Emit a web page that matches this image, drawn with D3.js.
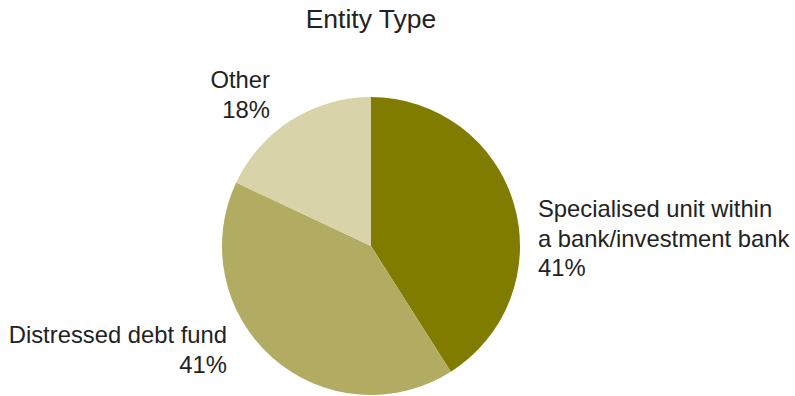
<!DOCTYPE html>
<html><head><meta charset="utf-8">
<script src="https://cdn.jsdelivr.net/npm/d3@7"></script>
<style>body{margin:0;background:#fff}svg{display:block;font-family:"Liberation Sans",Arial,sans-serif}</style>
</head><body>
<svg id="c" width="795" height="396"></svg>
<script>
const categories = ["Specialised unit within a bank/investment bank", "Distressed debt fund", "Other"];
const labelLines = [["Specialised unit within", "a bank/investment bank", "41%"], ["Distressed debt fund", "41%"], ["Other", "18%"]];
const values = [41, 41, 18];
const colors = ["#807c00", "#b1ac62", "#d8d3a8"];

const svg = d3.select("#c");
const cx = 371, cy = 246, r = 149;
svg.append("text").attr("x", cx).attr("y", 28).attr("text-anchor", "middle")
  .attr("font-size", 26.5).attr("fill", "#222").text("Entity Type");

const pie = d3.pie().sort(null).value(d => d)(values);
const arc = d3.arc().innerRadius(0).outerRadius(r);
const g = svg.append("g").attr("transform", `translate(${cx},${cy})`);
g.selectAll("path").data(pie).join("path").attr("d", arc).attr("fill", (d, i) => colors[i]);

const labelPos = [
  {x: 538, y: 217, anchor: "start"},
  {x: 227, y: 343, anchor: "end"},
  {x: 270, y: 88, anchor: "end"}
];
labelLines.forEach((lines, i) => {
  const p = labelPos[i];
  const t = svg.append("text").attr("text-anchor", p.anchor).attr("font-size", 23.8).attr("fill", "#222");
  lines.forEach((l, j) => t.append("tspan").attr("x", p.x).attr("y", p.y + j * 29.5).text(l));
});
</script>
</body></html>
